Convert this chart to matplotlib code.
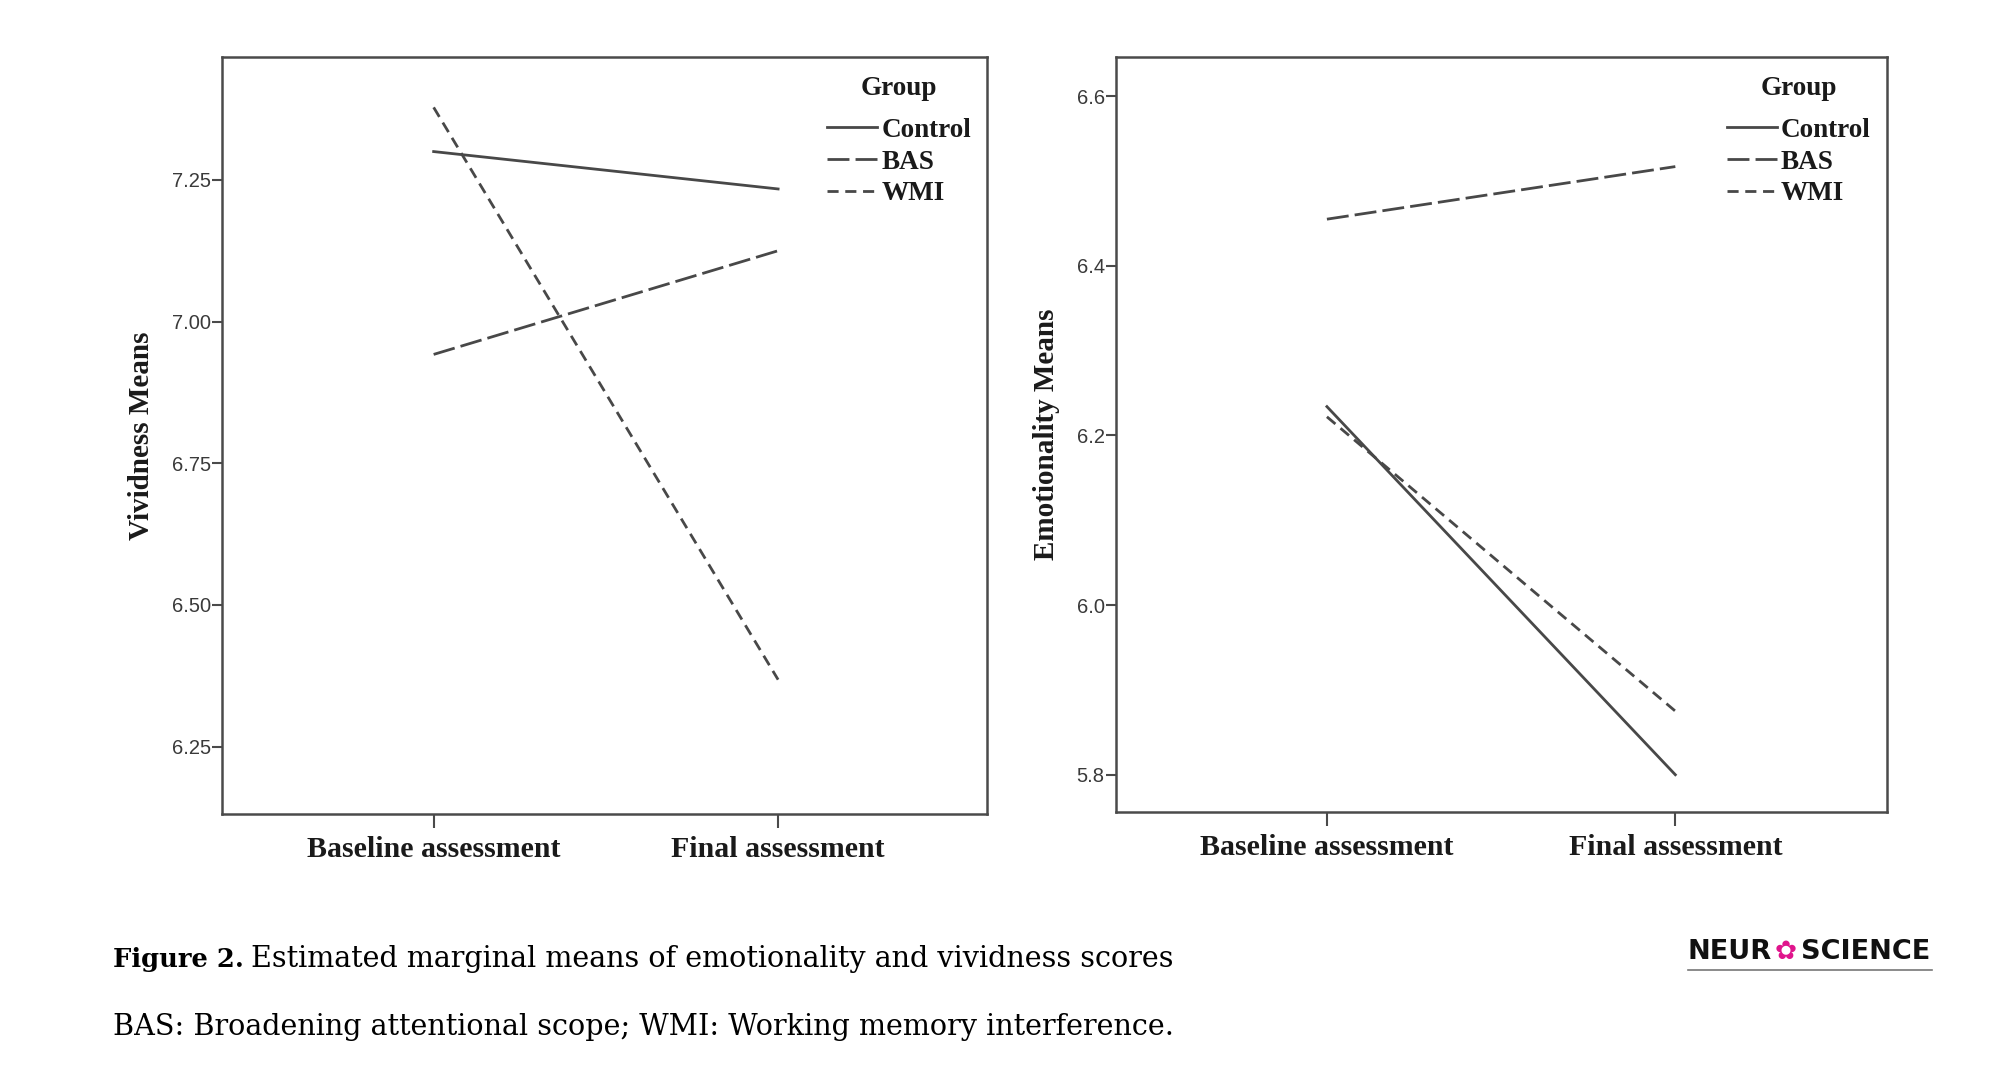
import matplotlib
matplotlib.use("Agg")
import matplotlib.pyplot as plt

# Estimated marginal means
time_points = ["Baseline assessment", "Final assessment"]
groups = ["Control", "BAS", "WMI"]

vividness_control = [7.30, 7.234]
vividness_bas = [6.942, 7.125]
vividness_wmi = [7.378, 6.368]

emotion_control = [6.234, 5.800]
emotion_bas = [6.455, 6.517]
emotion_wmi = [6.222, 5.875]

viv_ticks = [6.25, 6.50, 6.75, 7.00, 7.25]
emo_ticks = [5.8, 6.0, 6.2, 6.4, 6.6]

LINE_COL = "#484848"
SPINE_COL = "#4a4a4a"
TEXT_COL = "#1a1a1a"
SERIF = ["Liberation Serif", "DejaVu Serif"]
SANS = ["Liberation Sans", "DejaVu Sans"]
styles = {
    "Control": dict(linestyle="-"),
    "BAS": dict(linestyle=(0, (7.9, 2.2))),
    "WMI": dict(linestyle=(0, (4.0, 2.4))),
}
LEG_SIZE = 19.5


def draw_panel(ax, series, yticks, ylim, xlim, ylabel, tick_fmt):
    x = list(range(len(time_points)))
    for name, vals in zip(groups, series):
        ax.plot(x, vals, color=LINE_COL, lw=2.0, label=name, **styles[name])
    ax.set_xlim(*xlim)
    ax.set_ylim(*ylim)
    ax.set_xticks(x)
    ax.set_xticklabels(time_points, fontfamily=SERIF, fontweight="bold",
                       fontsize=21.5, color=TEXT_COL)
    ax.set_yticks(yticks)
    ax.set_yticklabels([tick_fmt.format(t) for t in yticks], fontfamily=SANS,
                       fontsize=14.5, color="#3a3a3a")
    ax.tick_params(axis="y", length=7, width=1.5, color=SPINE_COL, pad=1)
    ax.tick_params(axis="x", length=10, width=1.5, color=SPINE_COL, pad=6)
    ax.set_ylabel(ylabel, fontfamily=SERIF, fontweight="bold", fontsize=21,
                  color=TEXT_COL, labelpad=12)
    for s in ax.spines.values():
        s.set_color(SPINE_COL)
        s.set_linewidth(1.8)
    leg = ax.legend(loc="upper right", bbox_to_anchor=(0.979, 0.974), frameon=False,
                    title="Group", handlelength=1.85, handletextpad=0.15,
                    labelspacing=0.25, borderpad=0.0, borderaxespad=0.0,
                    prop=dict(family=SERIF, weight="bold", size=LEG_SIZE))
    leg.get_title().set_fontproperties(dict(family=SERIF, weight="bold", size=LEG_SIZE))
    leg.get_title().set_color(TEXT_COL)
    # a bit more room between the title and the entries
    leg._legend_box.sep = 0.25 * LEG_SIZE + 7
    for t in leg.get_texts():
        t.set_color(TEXT_COL)
    for h in leg.get_lines():
        h.set_linewidth(2.0)


fig = plt.figure(figsize=(20, 10.71), dpi=100)

ax1 = fig.add_axes([0.1109, 0.2400, 0.3827, 0.7071])
draw_panel(ax1, [vividness_control, vividness_bas, vividness_wmi], viv_ticks,
           (6.131, 7.4675), (-0.615, 1.607), "Vividness Means", "{:.2f}")

ax2 = fig.add_axes([0.5579, 0.2421, 0.3855, 0.7050])
draw_panel(ax2, [emotion_control, emotion_bas, emotion_wmi], emo_ticks,
           (5.7564, 6.6466), (-0.606, 1.607), "Emotionality Means", "{:.1f}")

# caption
CAP = ["DejaVu Serif"]
fig.text(0.0565, 0.097, "Figure 2.", fontfamily=CAP, fontweight="bold",
         fontsize=18.5, color="black", va="baseline")
fig.text(0.1255, 0.097, "Estimated marginal means of emotionality and vividness scores",
         fontfamily=CAP, fontsize=20.6, color="black", va="baseline")
fig.text(0.0565, 0.0337, "BAS: Broadening attentional scope; WMI: Working memory interference.",
         fontfamily=CAP, fontsize=20.6, color="black", va="baseline")

# journal logo
LOGO = ["DejaVu Sans"]
fig.text(0.844, 0.1046, "NEUR", fontfamily=LOGO, fontweight="bold", fontsize=19.5,
         color="#111111", va="baseline")
fig.text(0.8875, 0.1046, "\u273f", fontfamily=LOGO, fontsize=19,
         color="#e0148c", va="baseline")
fig.text(0.9005, 0.1046, "SCIENCE", fontfamily=LOGO, fontweight="bold", fontsize=19.5,
         color="#111111", va="baseline")
fig.add_artist(plt.Line2D([0.844, 0.966], [0.0946, 0.0946], color="#777777", lw=1.2))

fig.savefig("out.png", dpi=100, facecolor="white")
